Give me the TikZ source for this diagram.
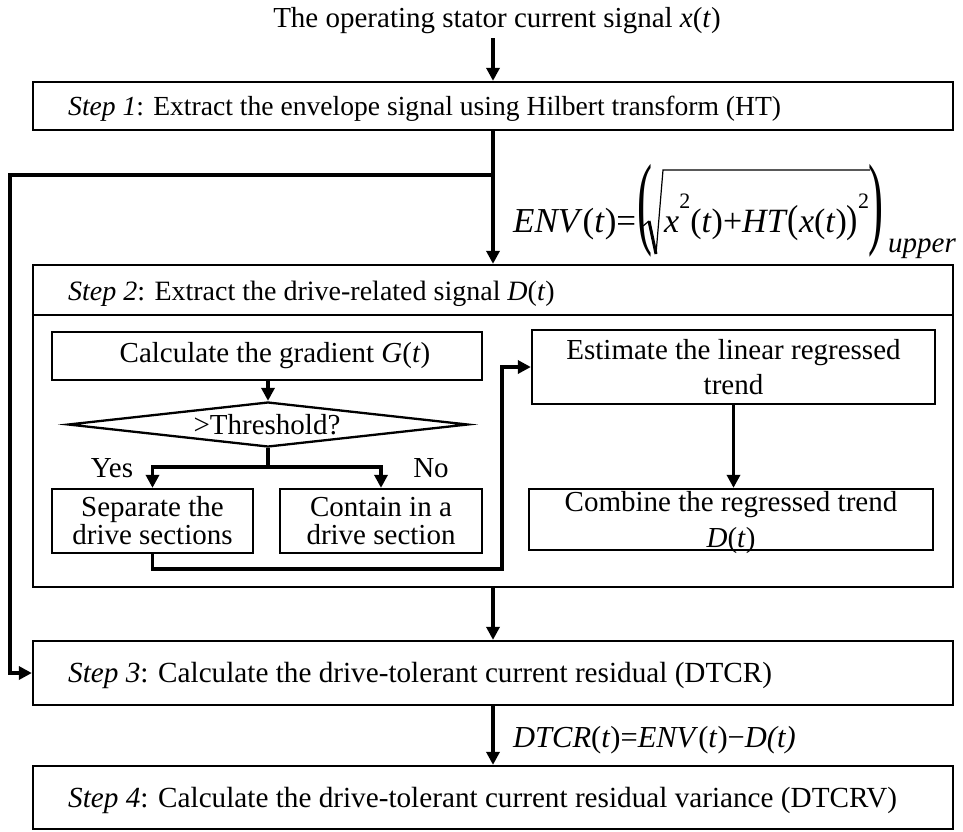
\RequirePackage{fix-cm}
\documentclass[tikz,border=0pt]{standalone}
\usepackage{fontspec}
\usepackage{graphicx}
\setmainfont{Liberation Serif}
\usetikzlibrary{arrows.meta,shapes.geometric}
\newcommand{\ti}[1]{\textit{#1}}
\newcommand{\supsz}{\fontsize{22}{22}\selectfont}
\begin{document}
\begin{tikzpicture}[x=1pt,y=-1pt,
  box/.style={draw, line width=2.3pt, inner sep=0pt},
  conn/.style={line width=3.4pt},
  arr/.style={conn, -{Triangle[length=13pt,width=13pt]}},
  big/.style={font=\fontsize{28}{34}\selectfont},
  mid/.style={font=\fontsize{29}{35}\selectfont},
  fml/.style={font=\fontsize{34}{40}\selectfont},
  lbl/.style={inner sep=0pt}
]
\useasboundingbox (0,0) rectangle (963,831);

% title and step 1
\node[mid, lbl, anchor=base] (title) at (497,27) {The operating stator current signal \ti{x}(\ti{t})};
\node[box, minimum width=920pt, minimum height=48pt] (s1) at (493,106) {};
\node[lbl, anchor=base west, font=\fontsize{27.6}{34}\selectfont] (s1t) at (68,115) {\ti{Step 1}: Extract the envelope signal using Hilbert transform (HT)};

% step 2 frame
\node[box, minimum width=920pt, minimum height=322pt] (s2) at (493,426) {};
\draw[line width=2.3pt] (s2.west |- 0,315) -- (s2.east |- 0,315);
\node[big, lbl, anchor=base west] (s2t) at (68,300) {\ti{Step 2}: Extract the drive-related signal \ti{D}(\ti{t})};

% envelope formula
\node[lbl, anchor=base west, font=\fontsize{35}{40}\selectfont] (envA) at (513,232) {\ti{ENV}(\ti{t})=};
\node[lbl, anchor=base west, font=\fontsize{36}{40}\selectfont] (envL) at (637,235) {\scalebox{1.25}[2.85]{(}};
\node[lbl, anchor=base west, fml] (envB) at (664,232) {\ti{x}\raisebox{24pt}{\supsz 2}(\ti{t})+\ti{HT}\scalebox{1}[1.15]{(}\ti{x}(\ti{t})\scalebox{1}[1.15]{)}\raisebox{24pt}{\supsz 2}};
\node[lbl, anchor=base west, font=\fontsize{36}{40}\selectfont] (envR) at (868,235) {\scalebox{1.25}[2.85]{)}};
\node[lbl, anchor=base west, font=\fontsize{29}{30}\selectfont] (envU) at (888,252) {\ti{upper}};
\draw[line width=1.2pt, line join=round] (643,226) -- (649,221);
\draw[line width=3pt] (649,221) -- (656,254);
\draw[line width=1.2pt, line join=miter] (656,254) -- (663,170) -- (870,170);

% inner flow of step 2
\node[box, mid, minimum width=430pt, minimum height=48pt] (g) at (267,356) {\hspace*{16pt}Calculate the gradient \ti{G}(\ti{t})};
\node[draw, line width=2.3pt, diamond, minimum width=400pt, minimum height=45pt, inner sep=0pt] (d) at (268,424.5) {};
\node[mid, lbl, anchor=base] (dt) at (267,434) {>Threshold?};
\node[mid, lbl, anchor=base] (yes) at (112,477) {Yes};
\node[mid, lbl, anchor=base] (no) at (431,477) {No};
\node[box, align=center, minimum width=201pt, minimum height=64pt, font=\fontsize{29}{28}\selectfont] (sep) at (152.5,521) {Separate the\\drive sections};
\node[box, align=center, minimum width=202pt, minimum height=64pt, font=\fontsize{29}{28}\selectfont] (con) at (381,521) {Contain in a\\drive section};
\node[box, align=center, minimum width=403pt, minimum height=74pt, font=\fontsize{29}{35}\selectfont] (est) at (733.5,367) {Estimate the linear regressed\\trend};
\node[box, minimum width=404pt, minimum height=61pt] (com) at (731,519.5) {};
\node[lbl, align=center, font=\fontsize{29}{36}\selectfont] (comt) at (731,523) {Combine the regressed trend\\\ti{D}(\ti{t})};

% steps 3 and 4
\node[box, minimum width=920pt, minimum height=64pt] (s3) at (493,673) {};
\node[lbl, anchor=base west, font=\fontsize{29.2}{34}\selectfont] (s3t) at (68,682) {\ti{Step 3}: Calculate the drive-tolerant current residual (DTCR)};
\node[box, minimum width=920pt, minimum height=63pt] (s4) at (493,797.5) {};
\node[lbl, anchor=base west, font=\fontsize{29.2}{34}\selectfont] (s4t) at (68,807) {\ti{Step 4}: Calculate the drive-tolerant current residual variance (DTCRV)};
\node[lbl, anchor=west, font=\fontsize{30.5}{34}\selectfont] (dtcr) at (513,740) {\ti{DTCR}(\ti{t})=\ti{ENV}(\ti{t})−\ti{D(t)}};

% connectors
\coordinate (j) at (493,175);
\coordinate (lp) at (10,175);
\coordinate (sp) at (268,467);
\coordinate (bx) at (502,569);
\draw[arr] ([yshift=-5pt]title.south -| s1.north) -- (s1.north);
\draw[arr] (s1.south) -- (s2.north);
\draw[arr] (j) -- (lp) |- (s3.west);
\draw[arr] (g.south -| d.north) -- (d.north);
\draw[conn] (d.south) -- (sp);
\draw[arr] (sp) -| (sep.north);
\draw[arr] (sp) -| (con.north);
\draw[arr] (sep.south) |- (bx) |- (est.west);
\draw[arr] (est.south) -- (est.south |- com.north);
\draw[arr] (s2.south) -- (s3.north);
\draw[arr] (s3.south) -- (s4.north);
\end{tikzpicture}
\end{document}
